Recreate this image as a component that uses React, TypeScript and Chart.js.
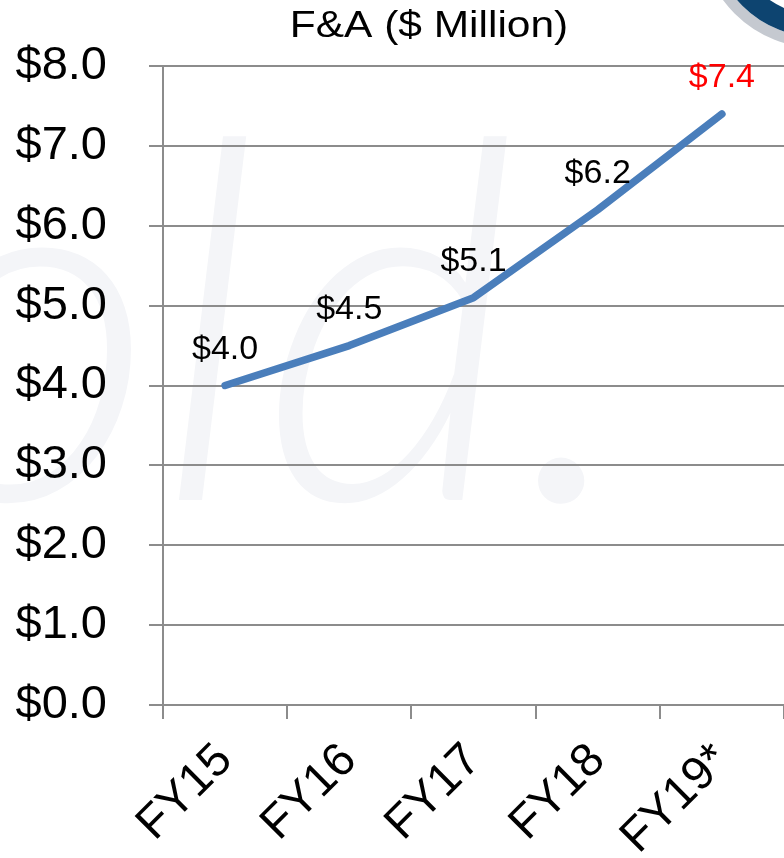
import React, { useEffect, useRef } from "react";
import { Chart, registerables } from "chart.js";

Chart.register(...registerables);

const categories = ["FY15", "FY16", "FY17", "FY18", "FY19*"];
const values = [4.0, 4.5, 5.1, 6.2, 7.4];
const valueLabels = ["$4.0", "$4.5", "$5.1", "$6.2", "$7.4"];
const labelColors = ["#000000", "#000000", "#000000", "#000000", "#ff0000"];
const chartTitle = "F&A ($ Million)";
const watermarkText = "old.";
const yMin = 0;
const yMax = 8;
const yStep = 1;

const FONT = "'Liberation Sans', Arial, sans-serif";

const decorPlugin = {
  id: "decor",
  beforeDraw(chart: any) {
    const ctx = chart.ctx;
    ctx.save();
    // faint watermark
    ctx.fillStyle = "#f4f5f8";
    ctx.font = `italic 300 500px Lato, sans-serif`;
    ctx.textBaseline = "alphabetic";
    ctx.textAlign = "left";
    ctx.fillText(watermarkText, -100, 500);
    // logo ring in the corner
    const cx = 818, cy = -70;
    ctx.beginPath();
    ctx.arc(cx, cy, 112.5, 0, Math.PI * 2);
    ctx.strokeStyle = "#c5c9d0";
    ctx.lineWidth = 11;
    ctx.stroke();
    ctx.beginPath();
    ctx.arc(cx, cy, 96, 0, Math.PI * 2);
    ctx.strokeStyle = "#0d4470";
    ctx.lineWidth = 22;
    ctx.stroke();
    ctx.restore();
  },
  afterDatasetsDraw(chart: any) {
    const ctx = chart.ctx;
    const meta = chart.getDatasetMeta(0);
    ctx.save();
    ctx.font = `34px ${FONT}`;
    ctx.textAlign = "center";
    ctx.textBaseline = "alphabetic";
    meta.data.forEach((pt: any, i: number) => {
      ctx.fillStyle = labelColors[i];
      ctx.fillText(valueLabels[i], pt.x, pt.y - 27);
    });
    // title
    ctx.fillStyle = "#000000";
    ctx.font = `36px ${FONT}`;
    ctx.translate(429, 37);
    ctx.scale(1.18, 1);
    ctx.fillText(chartTitle, 0, 0);
    ctx.restore();
  },
};

export default function App() {
  const ref = useRef<HTMLCanvasElement | null>(null);
  useEffect(() => {
    if (!ref.current) return;
    const chart = new Chart(ref.current, {
      type: "line",
      data: {
        labels: categories,
        datasets: [
          {
            data: values,
            borderColor: "#4a7ebb",
            backgroundColor: "#4a7ebb",
            borderWidth: 7.5,
            borderCapStyle: "round",
            borderJoinStyle: "round",
            pointRadius: 0,
            pointHoverRadius: 0,
            tension: 0,
            fill: false,
          },
        ],
      },
      options: {
        animation: false,
        responsive: false,
        maintainAspectRatio: false,
        layout: { padding: { top: 66, right: 0, bottom: 0, left: 0 } },
        plugins: {
          legend: { display: false },
          title: { display: false },
          tooltip: { enabled: false },
        },
        scales: {
          x: {
            offset: true,
            grid: {
              drawOnChartArea: false,
              offset: true,
              tickLength: 14,
              color: "#8c8c8c",
              lineWidth: 2,
            },
            border: { color: "#8c8c8c", width: 2 },
            ticks: {
              autoSkip: false,
              maxRotation: 45,
              minRotation: 45,
              color: "#000000",
              padding: 14,
              font: { family: FONT, size: 47 },
            },
            afterFit: (s: any) => {
              s.height = 153;
            },
          },
          y: {
            min: yMin,
            max: yMax,
            ticks: {
              stepSize: yStep,
              color: "#000000",
              padding: 42,
              font: { family: FONT, size: 47 },
              callback: (v: any) => "$" + Number(v).toFixed(1),
            },
            grid: { color: "#8c8c8c", lineWidth: 2, tickLength: 14 },
            border: { color: "#8c8c8c", width: 2 },
            afterFit: (s: any) => {
              s.width = 163;
              s.paddingTop = 0;
              s.paddingBottom = 0;
            },
          },
        },
      },
      plugins: [decorPlugin],
    } as any);
    return () => chart.destroy();
  }, []);
  return (
    <div style={{ position: "absolute", left: 0, top: 0, width: 784, height: 858, background: "#ffffff" }}>
      <canvas ref={ref} width={784} height={858} style={{ display: "block" }} />
    </div>
  );
}
